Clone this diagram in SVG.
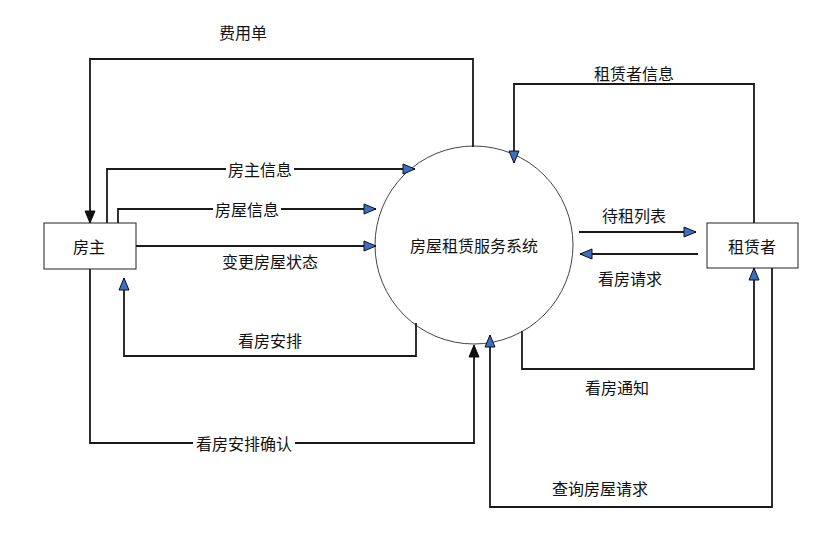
<svg xmlns="http://www.w3.org/2000/svg" width="831" height="540" viewBox="0 0 831 540">
<style>
.box{fill:#fff;stroke:#222;stroke-width:1}
.circ{fill:#fff;stroke:#444;stroke-width:1}
.ln{fill:none;stroke:#1a1a1a;stroke-width:1.8}
.bl{marker-end:url(#ab)}
.bk{marker-end:url(#ak)}
text{font-family:"Noto Sans CJK SC","Liberation Sans",sans-serif;font-size:16px;fill:#111;text-anchor:middle;dominant-baseline:central}
.lbg{fill:#fff}
</style>
<defs>
<marker id="ab" markerUnits="userSpaceOnUse" markerWidth="16" markerHeight="14" refX="13" refY="6" orient="auto">
<path d="M1,1 L13,6 L1,11 Z" fill="#3b6fc6" stroke="#111" stroke-width="1"/>
</marker>
<marker id="ak" markerUnits="userSpaceOnUse" markerWidth="16" markerHeight="14" refX="13" refY="6" orient="auto">
<path d="M1,1 L13,6 L1,11 Z" fill="#111" stroke="#111" stroke-width="1"/>
</marker>
</defs>
<rect width="831" height="540" fill="#fff"/>
<g id="system">
<circle class="circ" cx="474" cy="245" r="99"/>
<text x="474" y="245">房屋租赁服务系统</text>
</g>
<g id="landlord">
<rect class="box" x="44" y="223" width="92" height="46"/>
<text x="89" y="246">房主</text>
</g>
<g id="tenant">
<rect class="box" x="707" y="223" width="91" height="45"/>
<text x="752" y="246">租赁者</text>
</g>
<g id="connectors">
<polyline class="ln bk" points="473,147 473,59 90,59 90,223"/>
<polyline class="ln bl" points="107,223 107,169 415,169"/>
<polyline class="ln bl" points="118,223 118,209 376,209"/>
<polyline class="ln bl" points="136,246 376,246"/>
<polyline class="ln bl" points="416,323 416,356 124,356 124,278"/>
<polyline class="ln bk" points="90,269 90,443 474,443 474,345"/>
<polyline class="ln bl" points="754,223 754,84 514,84 514,163"/>
<polyline class="ln bl" points="579,232 696,232"/>
<polyline class="ln bl" points="698,254 580,254"/>
<polyline class="ln bl" points="522,331 522,369 754,369 754,268"/>
<polyline class="ln bl" points="772,268 772,507 490,507 490,335"/>
</g>
<g id="labels">
<text x="243" y="32">费用单</text>
<rect class="lbg" x="226" y="159" width="68" height="20"/>
<text x="260" y="169">房主信息</text>
<rect class="lbg" x="213" y="199" width="68" height="20"/>
<text x="247" y="209">房屋信息</text>
<text x="270" y="261">变更房屋状态</text>
<text x="270" y="340">看房安排</text>
<rect class="lbg" x="193" y="433" width="102" height="20"/>
<text x="244" y="443">看房安排确认</text>
<text x="634" y="73">租赁者信息</text>
<text x="634" y="215">待租列表</text>
<text x="630" y="278">看房请求</text>
<text x="617" y="387">看房通知</text>
<text x="600" y="488">查询房屋请求</text>
</g>
</svg>
